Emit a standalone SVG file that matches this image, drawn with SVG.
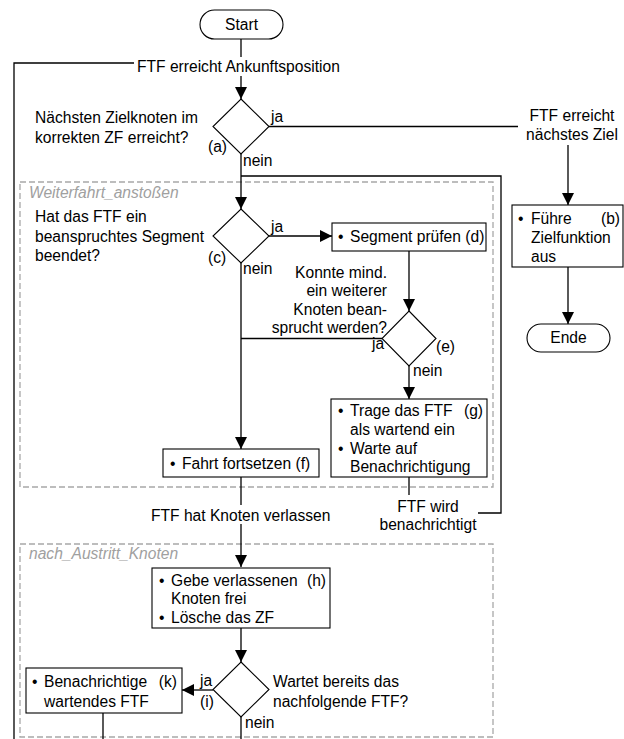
<svg xmlns="http://www.w3.org/2000/svg" width="624" height="739" viewBox="0 0 624 739">
<defs>
<marker id="arr" markerUnits="userSpaceOnUse" markerWidth="12" markerHeight="12" refX="12" refY="6" orient="auto">
<path d="M0,0 L12,6 L0,12 z" fill="#000"/>
</marker>
<style>
text{font-family:"Liberation Sans",Arial,sans-serif;font-size:15.6px;fill:#000}
.c{text-anchor:middle}
.r{text-anchor:end}
.grp{font-style:italic;fill:#a0a0a0}
.box{fill:#fff;stroke:#000;stroke-width:1.1}
.dash{fill:none;stroke:#a8a8a8;stroke-width:1.3;stroke-dasharray:6 3}
.ln{fill:none;stroke:#000;stroke-width:1.3}
.a{marker-end:url(#arr)}
</style>
</defs>
<rect width="624" height="739" fill="#fff"/>

<g id="groups">
<rect class="dash" x="20" y="182" width="473" height="305"/>
<text class="grp" x="29" y="198">Weiterfahrt_anstoßen</text>
<rect class="dash" x="20" y="544" width="473" height="193"/>
<text class="grp" x="29" y="559">nach_Austritt_Knoten</text>
</g>

<g id="connectors">
<path class="ln a" d="M241,39 V99"/>
<path class="ln" d="M14,739 V63 H134"/>
<path class="ln" d="M269,126.5 H518"/>
<path class="ln a" d="M568,145 V205"/>
<path class="ln a" d="M241,154 V209"/>
<path class="ln" d="M478,513 H501 V176 H241"/>
<path class="ln a" d="M269,236 H332"/>
<path class="ln a" d="M409,251 V311"/>
<path class="ln" d="M382,338.5 H241"/>
<path class="ln a" d="M409,366 V399"/>
<path class="ln a" d="M241,263 V449"/>
<path class="ln a" d="M241,477 V567"/>
<path class="ln" d="M409,477 V495"/>
<path class="ln a" d="M568,267 V324"/>
<path class="ln a" d="M241,628 V662"/>
<path class="ln a" d="M213,690 H182"/>
<path class="ln" d="M103,713 V739"/>
<path class="ln" d="M241,717 V739"/>
</g>

<g id="labels">
<rect x="135" y="57" width="212" height="19" fill="#fff"/>
<text x="137" y="72">FTF erreicht Ankunftsposition</text>
<text class="c" x="572" y="121">FTF erreicht</text>
<text class="c" x="572" y="140">nächstes Ziel</text>
<rect x="149" y="505" width="190" height="19" fill="#fff"/>
<text x="151" y="521">FTF hat Knoten verlassen</text>
<text class="c" x="428" y="512">FTF wird</text>
<text class="c" x="428" y="530">benachrichtigt</text>
</g>

<g id="start">
<rect class="box" x="200" y="10" width="83" height="29" rx="14.5"/>
<text class="c" x="241.5" y="30">Start</text>
</g>

<g id="dec_a">
<path class="box" d="M241,99 L269,126.5 L241,154 L213,126.5 z"/>
<text x="35" y="123">Nächsten Zielknoten im</text>
<text x="35" y="143">korrekten ZF erreicht?</text>
<text x="208" y="152">(a)</text>
<text x="271" y="122">ja</text>
<text x="243" y="166">nein</text>
</g>

<g id="box_b">
<rect class="box" x="512" y="205" width="111" height="62"/>
<text x="518" y="224">•</text>
<text x="531" y="224">Führe</text>
<text class="r" x="620" y="224">(b)</text>
<text x="531" y="243">Zielfunktion</text>
<text x="531" y="262">aus</text>
</g>

<g id="ende">
<rect class="box" x="527" y="324" width="83" height="28" rx="14"/>
<text class="c" x="568.5" y="343">Ende</text>
</g>

<g id="dec_c">
<path class="box" d="M241,209 L269,236 L241,263 L213,236 z"/>
<text x="35" y="222">Hat das FTF ein</text>
<text x="35" y="242">beanspruchtes Segment</text>
<text x="35" y="261">beendet?</text>
<text x="208" y="263">(c)</text>
<text x="271" y="232">ja</text>
<text x="243" y="274">nein</text>
</g>

<g id="box_d">
<rect class="box" x="332" y="223" width="154" height="28"/>
<text x="338" y="242">•</text>
<text x="350" y="242">Segment prüfen (d)</text>
</g>

<g id="dec_e">
<path class="box" d="M409,311 L436,338.5 L409,366 L382,338.5 z"/>
<text class="r" x="387" y="278">Konnte mind.</text>
<text class="r" x="387" y="296">ein weiterer</text>
<text class="r" x="387" y="315">Knoten bean-</text>
<text class="r" x="387" y="333">sprucht werden?</text>
<text x="372" y="349">ja</text>
<text x="436" y="352">(e)</text>
<text x="413" y="376">nein</text>
</g>

<g id="box_g">
<rect class="box" x="331" y="399" width="156" height="78"/>
<text x="338" y="416">•</text>
<text x="350" y="416">Trage das FTF</text>
<text class="r" x="483" y="416">(g)</text>
<text x="350" y="435">als wartend ein</text>
<text x="338" y="454">•</text>
<text x="350" y="454">Warte auf</text>
<text x="350" y="472">Benachrichtigung</text>
</g>

<g id="box_f">
<rect class="box" x="163" y="449" width="156" height="28"/>
<text x="170" y="469">•</text>
<text x="182" y="469">Fahrt fortsetzen (f)</text>
</g>

<g id="box_h">
<rect class="box" x="152" y="568" width="178" height="60"/>
<text x="159" y="586">•</text>
<text x="171" y="586">Gebe verlassenen</text>
<text class="r" x="326" y="586">(h)</text>
<text x="171" y="604">Knoten frei</text>
<text x="159" y="623">•</text>
<text x="171" y="623">Lösche das ZF</text>
</g>

<g id="dec_i">
<path class="box" d="M241,662 L269,689.5 L241,717 L213,689.5 z"/>
<text x="273" y="687">Wartet bereits das</text>
<text x="273" y="707">nachfolgende FTF?</text>
<text x="200" y="686">ja</text>
<text x="200" y="707">(i)</text>
<text x="245" y="728">nein</text>
</g>

<g id="box_k">
<rect class="box" x="26" y="668" width="156" height="45"/>
<text x="32" y="687">•</text>
<text x="44" y="687">Benachrichtige</text>
<text class="r" x="177" y="687">(k)</text>
<text x="44" y="707">wartendes FTF</text>
</g>
</svg>
